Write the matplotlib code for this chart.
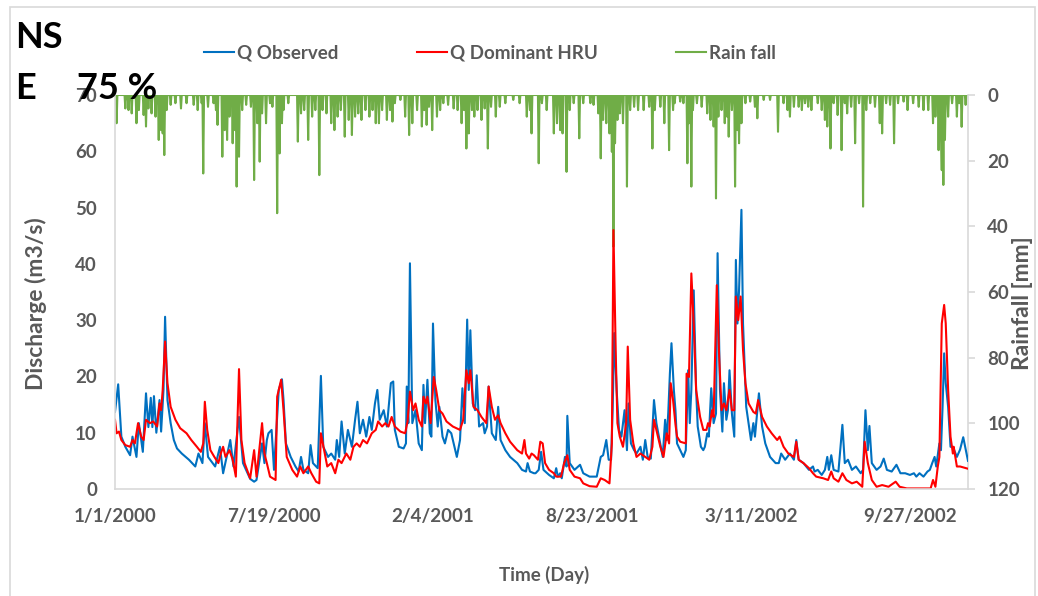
import numpy as np
import pandas as pd
import matplotlib
matplotlib.use('Agg')
import matplotlib.pyplot as plt
import matplotlib.dates as mdates
from matplotlib.patches import Rectangle
from matplotlib.ticker import FuncFormatter

plt.rcParams['font.family'] = ['Lato', 'DejaVu Sans']
plt.rcParams['font.weight'] = 'bold'
plt.rcParams['axes.labelweight'] = 'bold'

START = pd.Timestamp('2000-01-01')
N_DAYS = 1074

# Q Observed (day offset from 1/1/2000, m3/s)
obs_day = [0, 4, 8, 13, 19, 22, 27, 30, 35, 39, 42, 45, 47, 49, 52, 56, 58, 61, 63, 66,
           70, 74, 78, 84, 93, 101, 105, 110, 113, 117, 126, 132, 136, 145, 149, 156, 161, 170, 175, 178,
           185, 188, 191, 193, 197, 200, 206, 210, 212, 215, 221, 227, 231, 234, 237, 243, 246, 249, 255, 259,
           262, 268, 272, 277, 279, 282, 285, 289, 293, 298, 302, 305, 308, 312, 316, 320, 323, 327, 330, 333,
           338, 342, 347, 350, 352, 357, 363, 366, 367, 369, 371, 374, 378, 382, 386, 388, 390, 393, 396, 398,
           400, 403, 406, 408, 412, 415, 419, 423, 430, 434, 437, 440, 443, 445, 447, 450, 453, 455, 458, 463,
           465, 468, 470, 474, 479, 482, 485, 491, 497, 506, 512, 517, 519, 522, 527, 529, 533, 536, 539, 546,
           552, 555, 557, 560, 562, 566, 568, 569, 572, 578, 585, 589, 597, 606, 611, 614, 618, 621, 624, 626,
           628, 631, 634, 637, 641, 644, 646, 649, 653, 656, 661, 664, 667, 670, 674, 678, 681, 685, 689, 692,
           694, 696, 698, 700, 703, 705, 707, 711, 715, 718, 721, 723, 725, 728, 731, 733, 737, 740, 742, 745,
           747, 750, 753, 756, 758, 761, 764, 766, 769, 771, 773, 776, 779, 781, 783, 785, 788, 790, 794, 797,
           800, 803, 805, 808, 810, 814, 818, 824, 831, 835, 838, 843, 849, 854, 857, 860, 866, 873, 878, 880,
           884, 889, 893, 896, 898, 901, 904, 910, 915, 918, 922, 927, 932, 938, 941, 944, 947, 949, 952, 958,
           963, 967, 971, 977, 983, 988, 994, 1000, 1005, 1008, 1012, 1017, 1022, 1025, 1028, 1031, 1033, 1037, 1039, 1041,
           1043, 1045, 1048, 1051, 1054, 1059, 1063, 1067, 1073]
obs_q = [13.7, 18.6, 9.3, 7.5, 6.0, 9.3, 5.7, 11.7, 6.6, 17.0, 11.0, 16.2, 11.0, 16.5, 10.0, 15.8, 10.2, 17.6, 30.6, 15.8,
         11.7, 8.7, 7.2, 6.3, 5.2, 4.0, 6.3, 4.6, 11.7, 5.7, 4.0, 7.5, 2.8, 8.7, 4.0, 12.8, 4.6, 1.8, 1.3, 1.6,
         8.1, 4.6, 8.7, 9.9, 10.5, 3.4, 17.6, 19.5, 15.8, 8.1, 5.7, 4.0, 3.1, 5.7, 3.4, 2.8, 7.8, 4.6, 3.7, 20.1,
         7.5, 5.7, 6.3, 5.2, 8.7, 5.7, 12.0, 6.3, 10.5, 7.5, 12.3, 15.5, 9.9, 12.3, 9.3, 12.8, 10.5, 15.2, 17.6, 12.3,
         14.0, 11.1, 18.8, 19.1, 10.5, 7.5, 7.2, 8.1, 18.2, 11.7, 40.1, 11.7, 14.0, 8.1, 6.9, 18.5, 11.7, 19.4, 9.9, 9.3,
         29.4, 15.8, 11.1, 14.6, 9.3, 8.1, 10.5, 9.9, 5.7, 8.7, 17.9, 11.7, 30.1, 17.6, 28.2, 15.2, 14.0, 20.2, 11.1, 11.7,
         9.9, 11.1, 18.2, 9.9, 8.7, 14.6, 8.7, 6.9, 5.7, 4.6, 3.4, 3.1, 4.6, 3.1, 2.8, 2.8, 3.4, 6.6, 3.4, 2.5,
         1.9, 3.7, 2.2, 2.8, 1.9, 5.7, 4.0, 13.0, 4.6, 3.4, 4.3, 2.8, 2.2, 2.2, 5.7, 6.0, 8.7, 5.2, 5.2, 14.0,
         27.7, 17.6, 10.5, 9.3, 14.0, 6.9, 15.2, 8.1, 6.9, 6.3, 7.5, 5.2, 8.7, 5.7, 5.4, 15.8, 11.7, 8.7, 5.7, 12.3,
         8.7, 13.7, 20.5, 25.9, 17.6, 14.0, 8.1, 6.9, 5.7, 6.9, 21.1, 11.7, 17.6, 35.3, 17.6, 11.1, 7.5, 6.9, 7.5, 9.9,
         9.3, 17.9, 11.7, 13.4, 41.9, 17.6, 10.2, 18.8, 12.3, 14.0, 21.1, 13.4, 9.3, 40.7, 29.4, 35.3, 49.6, 29.4, 14.6, 11.7,
         8.7, 11.7, 9.3, 14.0, 17.0, 11.1, 8.1, 5.7, 4.6, 4.6, 6.3, 5.2, 6.3, 5.2, 8.7, 5.2, 4.6, 3.4, 4.0, 3.1,
         3.4, 2.5, 3.4, 5.7, 3.4, 6.0, 3.4, 3.1, 11.4, 4.6, 5.2, 3.4, 4.0, 2.8, 3.4, 14.0, 6.9, 11.2, 4.6, 3.4,
         4.0, 5.4, 3.4, 3.1, 4.3, 2.8, 2.8, 2.5, 2.8, 2.2, 2.8, 2.2, 3.1, 3.4, 4.6, 5.7, 4.0, 8.1, 6.9, 14.6,
         24.1, 18.8, 14.6, 7.5, 7.5, 5.7, 7.0, 9.2, 5.0]

# Q Dominant HRU
hru_day = [0, 2, 5, 8, 13, 19, 22, 25, 29, 33, 36, 39, 44, 48, 53, 56, 58, 60, 63, 66,
           70, 76, 82, 90, 96, 103, 108, 111, 113, 116, 120, 125, 130, 133, 136, 139, 144, 148, 152, 156,
           159, 163, 170, 175, 178, 185, 188, 191, 195, 202, 204, 209, 212, 216, 223, 229, 233, 237, 243, 247,
           253, 257, 259, 263, 267, 272, 277, 281, 285, 291, 296, 300, 304, 308, 312, 317, 323, 328, 331, 336,
           340, 344, 348, 352, 359, 365, 368, 371, 375, 378, 382, 386, 388, 391, 393, 397, 401, 404, 408, 412,
           417, 425, 434, 438, 442, 445, 447, 451, 456, 461, 467, 470, 474, 478, 482, 485, 491, 497, 506, 512,
           515, 517, 521, 524, 527, 532, 535, 538, 541, 546, 552, 555, 561, 565, 569, 572, 578, 585, 589, 597,
           606, 611, 616, 622, 625, 627, 630, 632, 635, 639, 643, 645, 648, 652, 656, 661, 667, 672, 676, 678,
           682, 686, 690, 694, 697, 699, 702, 705, 707, 711, 718, 719, 722, 725, 728, 731, 736, 740, 744, 746,
           748, 751, 753, 757, 760, 763, 766, 769, 773, 776, 779, 781, 784, 787, 790, 793, 797, 803, 806, 809,
           814, 820, 826, 833, 836, 841, 847, 854, 857, 860, 866, 873, 878, 882, 891, 897, 901, 904, 910, 915,
           920, 927, 933, 940, 943, 947, 952, 958, 965, 973, 979, 982, 987, 996, 1013, 1026, 1029, 1032, 1035, 1037,
           1040, 1043, 1045, 1048, 1051, 1054, 1055, 1059, 1063, 1073]
hru_q = [12.3, 9.9, 10.2, 8.7, 7.8, 7.5, 8.7, 8.1, 11.7, 9.3, 8.7, 12.3, 11.7, 12.0, 11.1, 15.2, 14.0, 17.6, 26.2, 18.8,
         14.6, 12.3, 10.8, 9.9, 8.7, 7.5, 6.6, 8.1, 15.5, 10.5, 6.9, 5.7, 4.6, 6.3, 7.5, 5.7, 6.9, 5.2, 2.2, 21.3,
         8.7, 4.6, 1.9, 6.9, 2.2, 11.7, 6.3, 4.6, 2.2, 1.6, 16.4, 19.4, 14.0, 5.7, 3.4, 2.2, 4.0, 2.8, 4.0, 2.8,
         1.3, 1.0, 9.9, 6.9, 4.0, 4.6, 2.8, 5.2, 4.6, 6.3, 5.2, 7.5, 8.1, 7.5, 8.7, 8.1, 9.9, 10.5, 12.0, 11.1,
         11.7, 11.1, 12.8, 11.1, 10.2, 9.9, 12.0, 17.3, 14.0, 15.2, 12.3, 11.1, 16.4, 15.2, 16.4, 11.7, 19.9, 17.6, 14.0, 13.4,
         12.0, 11.1, 10.5, 12.3, 21.1, 18.8, 21.1, 14.6, 14.0, 12.8, 11.7, 18.2, 14.6, 12.3, 13.1, 11.7, 9.9, 8.4, 6.9, 6.3,
         8.7, 6.3, 5.4, 6.3, 6.0, 5.2, 8.4, 8.1, 4.6, 3.4, 2.8, 2.2, 2.2, 4.6, 6.0, 3.4, 2.2, 1.9, 1.0, 0.5,
         0.4, 1.9, 1.6, 1.0, 8.1, 46.0, 23.5, 11.7, 9.3, 7.5, 11.7, 25.3, 12.3, 8.1, 5.7, 6.3, 5.7, 5.2, 7.5, 12.3,
         9.9, 7.5, 5.7, 9.9, 8.1, 18.8, 15.8, 11.5, 9.3, 8.4, 8.1, 20.5, 19.9, 38.3, 29.4, 17.6, 12.8, 10.5, 10.5, 11.7,
         11.1, 14.0, 12.8, 36.2, 23.5, 14.0, 15.2, 14.0, 17.6, 14.0, 14.0, 34.2, 30.0, 34.2, 24.7, 18.8, 15.2, 13.7, 13.4, 15.8,
         12.8, 11.1, 9.9, 8.7, 9.3, 7.5, 6.3, 5.7, 8.4, 5.2, 4.6, 3.7, 2.8, 2.2, 1.9, 1.6, 3.1, 1.9, 1.3, 2.8,
         1.6, 1.0, 1.3, 0.4, 8.4, 4.6, 1.6, 0.4, 0.7, 0.4, 1.0, 1.3, 0.4, 0.1, 0.1, 0.1, 1.6, 0.4, 4.0, 5.7,
         29.4, 32.7, 29.4, 17.6, 9.3, 6.3, 7.5, 4.0, 4.0, 3.6]

# Rain fall spikes (day offset, mm); all other days 0
rain_day = [2, 13, 17, 21, 27, 30, 36, 39, 42, 46, 51, 55, 58, 60, 62, 65, 70, 76, 83, 90,
            99, 104, 109, 111, 117, 124, 127, 129, 135, 138, 141, 144, 148, 151, 153, 156, 160, 165, 171, 175,
            179, 182, 185, 190, 195, 198, 204, 207, 210, 212, 218, 230, 234, 238, 243, 248, 252, 257, 261, 266,
            272, 276, 280, 284, 289, 294, 298, 302, 306, 310, 315, 320, 324, 328, 332, 336, 342, 346, 349, 352,
            359, 365, 370, 374, 380, 386, 389, 392, 395, 399, 405, 409, 413, 419, 426, 431, 436, 439, 442, 445,
            449, 452, 456, 461, 465, 469, 473, 479, 484, 491, 501, 509, 518, 522, 524, 533, 537, 543, 552, 556,
            560, 563, 568, 572, 577, 584, 589, 598, 602, 608, 611, 614, 618, 622, 625, 627, 629, 632, 635, 639,
            644, 648, 653, 658, 665, 672, 676, 679, 686, 691, 697, 702, 704, 711, 715, 720, 722, 725, 727, 732,
            738, 745, 749, 753, 756, 759, 763, 767, 770, 772, 776, 780, 783, 785, 788, 793, 799, 805, 808, 816,
            824, 834, 841, 846, 849, 854, 860, 864, 868, 872, 876, 884, 889, 893, 896, 900, 904, 909, 914, 918,
            921, 926, 931, 936, 941, 945, 950, 956, 962, 965, 970, 975, 980, 985, 992, 997, 1004, 1011, 1017, 1023,
            1029, 1032, 1036, 1039, 1040, 1042, 1044, 1048, 1053, 1059, 1062, 1065, 1070]
rain_mm = [8.6, 4.1, 4.6, 5.6, 8.6, 4.6, 6.1, 9.6, 4.1, 5.6, 6.6, 13.7, 10.7, 11.7, 18.3, 4.6, 3.0, 2.5, 4.1, 2.5,
           3.0, 4.6, 2.5, 23.9, 3.6, 2.5, 4.6, 9.1, 18.8, 10.7, 13.7, 6.6, 14.7, 10.7, 27.9, 18.8, 4.6, 3.0, 3.6, 25.9,
           8.6, 20.3, 5.6, 8.6, 2.5, 3.6, 36.0, 17.8, 8.6, 4.6, 2.5, 14.2, 5.6, 4.6, 13.7, 6.6, 4.6, 24.4, 4.6, 5.6,
           8.6, 10.7, 6.6, 4.6, 12.7, 7.6, 12.2, 6.6, 5.6, 7.6, 4.6, 6.6, 4.6, 8.6, 8.6, 4.6, 7.6, 4.6, 8.1, 2.5,
           1.5, 6.6, 12.2, 8.6, 4.6, 9.6, 4.6, 9.1, 3.6, 10.7, 6.6, 4.6, 2.5, 3.0, 4.1, 4.6, 8.6, 4.6, 16.3, 11.7,
           4.6, 6.6, 4.6, 7.6, 4.1, 16.3, 3.6, 6.6, 3.6, 2.5, 1.5, 2.5, 6.6, 4.6, 11.7, 20.8, 2.5, 4.6, 11.7, 8.6,
           10.7, 11.7, 23.4, 4.6, 2.5, 13.2, 2.5, 2.5, 3.0, 5.6, 19.3, 7.6, 8.6, 11.7, 17.3, 46.2, 14.7, 7.6, 5.6, 8.6,
           27.9, 4.6, 3.6, 4.6, 4.6, 3.6, 16.3, 4.6, 3.6, 8.6, 16.8, 4.6, 2.5, 2.0, 2.5, 20.8, 8.6, 27.9, 4.6, 2.5,
           3.6, 5.6, 7.6, 9.6, 31.5, 6.6, 4.6, 8.6, 6.6, 12.7, 4.6, 27.9, 10.7, 14.7, 8.6, 2.5, 2.0, 3.6, 7.1, 1.5,
           1.5, 11.2, 2.5, 4.6, 6.6, 3.6, 3.6, 4.6, 2.5, 3.6, 4.6, 2.5, 4.6, 7.6, 9.6, 16.3, 2.5, 6.1, 16.8, 2.5,
           5.6, 3.6, 14.7, 2.5, 34.0, 4.6, 2.5, 3.6, 8.6, 11.7, 2.5, 3.0, 14.7, 2.5, 2.0, 4.6, 2.5, 3.6, 4.6, 4.6,
           8.6, 6.6, 16.8, 12.7, 22.9, 27.4, 13.7, 6.6, 2.5, 6.6, 2.5, 9.7, 3.0]

x_tick_step = 200
q_ticks = [0, 10, 20, 30, 40, 50, 60, 70]
rain_ticks = [0, 20, 40, 60, 80, 100, 120]

rain = np.zeros(N_DAYS)
rain[rain_day] = rain_mm
rain_dates = START + pd.to_timedelta(np.arange(N_DAYS), unit='D')
obs_dates = START + pd.to_timedelta(obs_day, unit='D')
hru_dates = START + pd.to_timedelta(hru_day, unit='D')

GRAY = '#595959'
LINE = '#D9D9D9'

fig = plt.figure(figsize=(10.38, 5.96), dpi=100)
ax = fig.add_axes([115/1038, 1 - 489/596, (968-115)/1038, (489-95)/596])
ax2 = ax.twinx()
# discharge lines drawn above the rainfall line
ax.set_zorder(ax2.get_zorder() + 1)
ax.patch.set_visible(False)

l1, = ax.plot(obs_dates, obs_q, color='#0070C0', lw=1.5, label='Q Observed')
l2, = ax.plot(hru_dates, hru_q, color='#FF0000', lw=1.5, label='Q Dominant HRU')
l3, = ax2.plot(rain_dates, rain, color='#70AD47', lw=1.5, label='Rain fall')

ax.set_xlim(START, START + pd.Timedelta(days=N_DAYS - 1))
ax.set_ylim(0, 70)
ax.set_yticks(q_ticks)
ax2.set_ylim(120, 0)
ax2.set_yticks(rain_ticks)

xt = [START + pd.Timedelta(days=d) for d in range(0, N_DAYS, x_tick_step)]
ax.set_xticks(xt)
ax.xaxis.set_major_formatter(FuncFormatter(
    lambda v, p: '{d.month}/{d.day}/{d.year}'.format(d=mdates.num2date(v))))

for a in (ax, ax2):
    for s in a.spines.values():
        s.set_visible(False)
ax.spines['left'].set_visible(True)
ax.spines['bottom'].set_visible(True)
ax2.spines['right'].set_visible(True)
for s in (ax.spines['left'], ax.spines['bottom'], ax2.spines['right']):
    s.set_color(LINE)
    s.set_linewidth(1.2)

ax.tick_params(axis='y', length=0, pad=13, labelsize=13.5, labelcolor=GRAY)
ax.tick_params(axis='x', length=0, pad=14, labelsize=13.5, labelcolor=GRAY)
ax2.tick_params(axis='y', length=5, width=1.2, color=LINE, pad=9, labelsize=13.5, labelcolor=GRAY)

ax.set_ylabel('Discharge (m3/s)', fontsize=16.5, color=GRAY, fontweight='bold')
ax.yaxis.set_label_coords(-0.0797, 0.471)
ax2.set_ylabel('Rainfall [mm]', fontsize=16.5, color=GRAY, fontweight='bold')
ax2.yaxis.set_label_coords(1.0516, 0.472)
ax.set_xlabel('Time (Day)', fontsize=13.5, color=GRAY, fontweight='bold')
ax.xaxis.set_label_coords(0.503, -0.195)

fig.legend(handles=[l1, l2, l3], loc='center', bbox_to_anchor=(0.472, 0.911), ncol=3,
           frameon=False, fontsize=13.5, labelcolor=GRAY, handlelength=1.6,
           handletextpad=0.15, columnspacing=4.2)

fig.text(15/1038, 1 - 48/596, 'NS', fontsize=26, color='black', va='baseline')
fig.text(15/1038, 1 - 99/596, 'E', fontsize=26, color='black', va='baseline')
fig.text(77/1038, 1 - 99/596, '75 %', fontsize=26, color='black', va='baseline')

fig.patches.append(Rectangle((10/1038, -0.01), (1035-10)/1038, 1.01 - 7/596,
                             transform=fig.transFigure, fill=False, edgecolor=LINE, lw=1.2))

fig.savefig('out.png', dpi=100)
